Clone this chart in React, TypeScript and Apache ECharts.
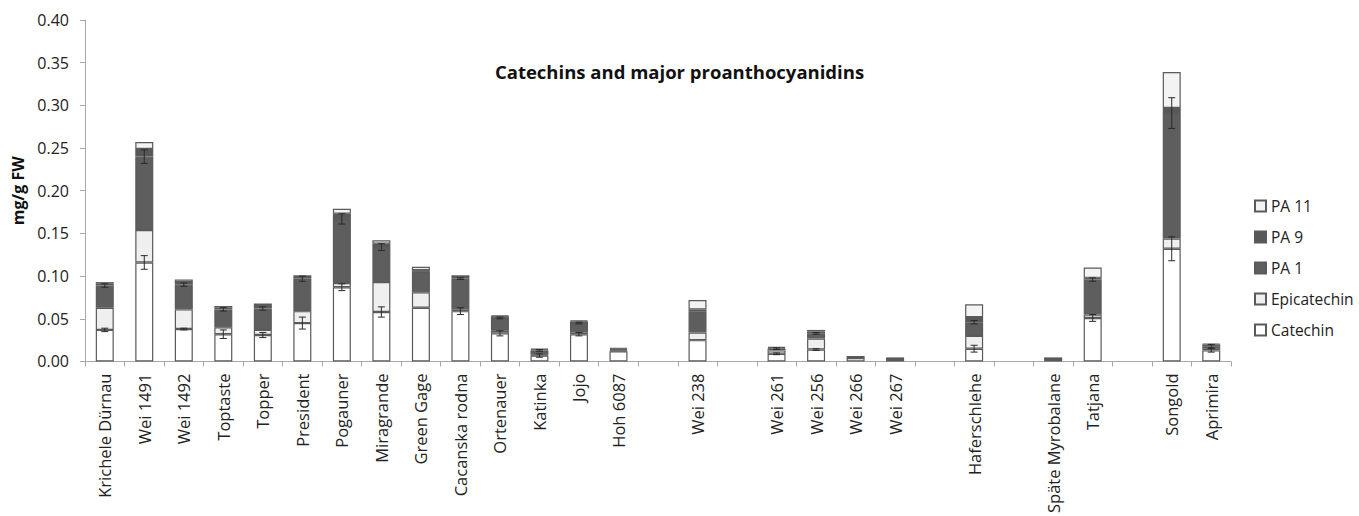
import React, { useEffect, useRef } from "react";
import * as echarts from "echarts";

// Cultivars on the x axis; blank entries are spacer columns between groups.
const categories = [
  "Krichele Dürnau", "Wei 1491", "Wei 1492", "Toptaste", "Topper", "President",
  "Pogauner", "Miragrande", "Green Gage", "Cacanska rodna", "Ortenauer", "Katinka",
  "Jojo", "Hoh 6087", "", "Wei 238", "", "Wei 261", "Wei 256", "Wei 266", "Wei 267",
  "", "Haferschlehe", "", "Späte Myrobalane", "Tatjana", "", "Songold", "Aprimira",
];

// Stacked components, mg/g FW
const catechin = [0.037, 0.116, 0.038, 0.032, 0.031, 0.045, 0.087, 0.058, 0.063, 0.059, 0.033, 0.007, 0.032, 0.012, null, 0.025, null, 0.009, 0.014, 0.004, 0.003, null, 0.015, null, 0.003, 0.051, null, 0.132, 0.013];
const epicatechin = [0.026, 0.038, 0.023, 0.008, 0.006, 0.014, 0.005, 0.035, 0.018, 0.002, 0.003, 0.001, 0.002, 0.001, null, 0.009, null, 0.004, 0.013, 0.0005, 0.0003, null, 0.015, null, 0.0003, 0.004, null, 0.012, 0.002];
const pa1 = [0.026, 0.086, 0.029, 0.021, 0.025, 0.038, 0.075, 0.041, 0.024, 0.036, 0.015, 0.005, 0.011, 0.001, null, 0.025, null, 0.002, 0.006, 0.0005, 0.0003, null, 0.016, null, 0.0003, 0.041, null, 0.147, 0.003];
const pa9 = [0.002, 0.009, 0.003, 0.002, 0.003, 0.002, 0.006, 0.004, 0.002, 0.002, 0.002, 0.001, 0.002, 0.001, null, 0.002, null, 0.001, 0.002, 0.0005, 0.0002, null, 0.006, null, 0.0002, 0.002, null, 0.006, 0.002];
const pa11 = [0.002, 0.008, 0.003, 0.002, 0.003, 0.002, 0.006, 0.004, 0.004, 0.002, 0.001, 0.001, 0.001, 0.001, null, 0.011, null, 0.001, 0.002, 0.0005, 0.0002, null, 0.015, null, 0.0002, 0.012, null, 0.042, 0.001];

// Standard deviations shown at the top of the Catechin and PA 1 segments
const catechinErr = [0.002, 0.008, 0.001, 0.005, 0.003, 0.007, 0.004, 0.006, 0, 0.004, 0.003, 0.002, 0.002, 0, null, 0, null, 0.001, 0.001, 0, 0, null, 0.004, null, 0, 0.004, null, 0.014, 0.002];
const pa1Err = [0.002, 0.008, 0.002, 0.002, 0.002, 0.003, 0.006, 0.004, 0, 0.001, 0.001, 0.001, 0.001, 0, null, 0, null, 0.001, 0.001, 0, 0, null, 0.002, null, 0, 0.002, null, 0.018, 0.002];

const yTicks = { min: 0, max: 0.4, interval: 0.05 };

const FONT = "'Open Sans', 'DejaVu Sans', sans-serif";
const DARK = "#5e5e5e";
const EDGE = "#5a5a5a";

function cumulative(layers: (number | null)[][], idx: number): number | null {
  const v = layers[0][idx];
  if (v == null) return null;
  let s = 0;
  for (const l of layers) s += (l[idx] as number) || 0;
  return s;
}

function errorData(layers: (number | null)[][], errs: (number | null)[]) {
  const out: any[] = [];
  categories.forEach((_, i) => {
    const top = cumulative(layers, i);
    const e = errs[i];
    if (top == null || e == null || e <= 0) return;
    out.push([i, top, e]);
  });
  return out;
}

const renderError = (params: any, api: any) => {
  const x = api.value(0);
  const top = api.value(1);
  const e = api.value(2);
  const hi = api.coord([x, top + e]);
  const lo = api.coord([x, top - e]);
  const cap = 3.5;
  const style = { stroke: "#2a2a2a", lineWidth: 1 };
  return {
    type: "group",
    children: [
      { type: "line", shape: { x1: hi[0], y1: hi[1], x2: lo[0], y2: lo[1] }, style },
      { type: "line", shape: { x1: hi[0] - cap, y1: hi[1], x2: hi[0] + cap, y2: hi[1] }, style },
      { type: "line", shape: { x1: lo[0] - cap, y1: lo[1], x2: lo[0] + cap, y2: lo[1] }, style },
    ],
  };
};

function barSeries(name: string, data: (number | null)[], color: string) {
  return {
    name,
    type: "bar",
    stack: "total",
    barWidth: 18,
    data,
    itemStyle: { color, borderColor: EDGE, borderWidth: 1.2 },
    emphasis: { disabled: true },
  };
}

export default function App() {
  const ref = useRef<HTMLDivElement>(null);

  useEffect(() => {
    document.body.style.margin = "0";
    if (!ref.current) return;
    const chart = echarts.init(ref.current, null, { renderer: "svg" });
    chart.setOption({
      animation: false,
      backgroundColor: "#ffffff",
      title: {
        text: "Catechins and major proanthocyanidins",
        left: "center",
        top: 57,
        textStyle: { fontFamily: FONT, fontSize: 18.5, fontWeight: 700, color: "#111" },
      },
      legend: {
        orient: "vertical",
        left: 1249,
        top: 192,
        icon: "rect",
        itemWidth: 11,
        itemHeight: 11,
        itemGap: 13,
        data: ["PA 11", "PA 9", "PA 1", "Epicatechin", "Catechin"],
        textStyle: { fontFamily: FONT, fontSize: 15.5, color: "#222", lineHeight: 18 },
      },
      grid: { left: 85, right: 128, top: 20, bottom: 152 },
      xAxis: {
        type: "category",
        data: categories,
        axisLine: { lineStyle: { color: "#a8a8a8", width: 1 } },
        axisTick: { show: true, interval: 0, length: 5, lineStyle: { color: "#a8a8a8" } },
        axisLabel: {
          interval: 0,
          rotate: 90,
          margin: 12,
          fontFamily: FONT,
          fontSize: 16.5,
          color: "#222",
        },
      },
      yAxis: {
        type: "value",
        min: yTicks.min,
        max: yTicks.max,
        interval: yTicks.interval,
        name: "mg/g FW",
        nameLocation: "middle",
        nameRotate: 90,
        nameGap: 56,
        nameTextStyle: { fontFamily: FONT, fontSize: 16, fontWeight: 700, color: "#111" },
        splitLine: { show: false },
        axisLine: { show: true, lineStyle: { color: "#a8a8a8", width: 1 } },
        axisTick: { show: true, length: 5, lineStyle: { color: "#a8a8a8" } },
        axisLabel: {
          margin: 16,
          fontFamily: FONT,
          fontSize: 16,
          color: "#222",
          formatter: (v: number) => v.toFixed(2),
        },
      },
      series: [
        barSeries("Catechin", catechin, "#ffffff"),
        barSeries("Epicatechin", epicatechin, "#efefef"),
        barSeries("PA 1", pa1, DARK),
        barSeries("PA 9", pa9, "#585858"),
        barSeries("PA 11", pa11, "#f3f3f3"),
        {
          type: "custom",
          name: "Catechin SD",
          renderItem: renderError,
          data: errorData([catechin], catechinErr),
          z: 5,
          silent: true,
        },
        {
          type: "custom",
          name: "PA 1 SD",
          renderItem: renderError,
          data: errorData([catechin, epicatechin, pa1], pa1Err),
          z: 5,
          silent: true,
        },
      ],
    });
    return () => chart.dispose();
  }, []);

  return <div ref={ref} style={{ width: 1359, height: 516 }} />;
}
